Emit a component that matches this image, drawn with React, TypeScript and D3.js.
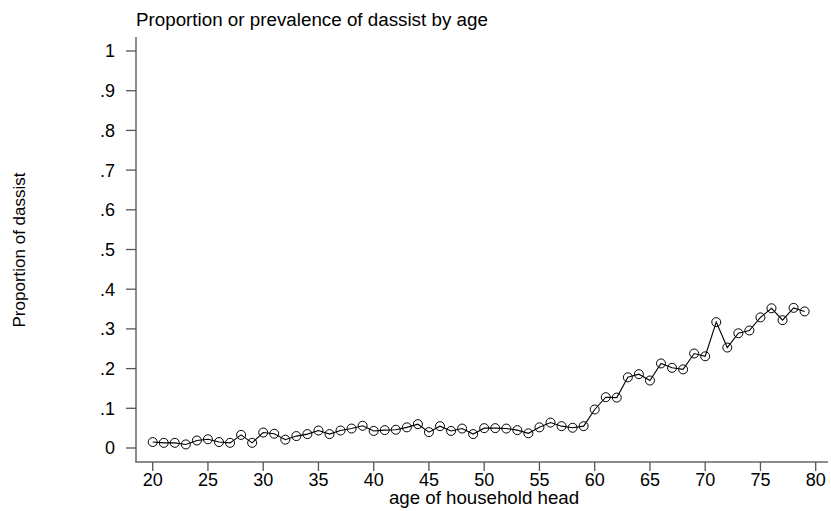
import React, { useEffect, useRef } from 'react';
import * as d3 from 'd3';

// age of household head, 20..79
const ages = d3.range(20, 80);
// proportion of dassist per age
const proportions = [
  0.015, 0.013, 0.013, 0.009, 0.019, 0.022, 0.015, 0.013, 0.033, 0.013,
  0.039, 0.036, 0.021, 0.030, 0.035, 0.044, 0.035, 0.044, 0.049, 0.056,
  0.043, 0.045, 0.046, 0.052, 0.060, 0.040, 0.055, 0.043, 0.049, 0.035,
  0.050, 0.050, 0.049, 0.045, 0.037, 0.052, 0.064, 0.055, 0.051, 0.055,
  0.097, 0.128, 0.127, 0.178, 0.186, 0.170, 0.213, 0.202, 0.198, 0.238,
  0.231, 0.317, 0.253, 0.289, 0.296, 0.329, 0.352, 0.322, 0.353, 0.344,
];
const xTicks = [20, 25, 30, 35, 40, 45, 50, 55, 60, 65, 70, 75, 80];
const yTicks = [0, 0.1, 0.2, 0.3, 0.4, 0.5, 0.6, 0.7, 0.8, 0.9, 1];
const yTickLabels = ['0', '.1', '.2', '.3', '.4', '.5', '.6', '.7', '.8', '.9', '1'];

const W = 831;
const H = 511;
const FONT = '"Liberation Sans", Arial, sans-serif';

export default function App() {
  const ref = useRef<SVGSVGElement | null>(null);

  useEffect(() => {
    if (!ref.current) return;
    const svg = d3.select(ref.current);
    svg.selectAll('*').remove();

    const x = d3.scaleLinear().domain([20, 80]).range([152.7, 815.7]);
    const y = d3.scaleLinear().domain([0, 1]).range([448, 51]);
    const axisX = 136;
    const axisY = 462;

    // title
    svg.append('text')
      .attr('x', 136).attr('y', 26)
      .style('font-family', FONT).style('font-size', '18.8px')
      .attr('fill', '#000')
      .text('Proportion or prevalence of dassist by age');

    // y axis
    svg.append('line')
      .attr('x1', axisX).attr('x2', axisX)
      .attr('y1', 37).attr('y2', axisY)
      .attr('stroke', '#666').attr('stroke-width', 1.5);

    const yg = svg.append('g');
    yTicks.forEach((t, i) => {
      yg.append('line')
        .attr('x1', axisX - 10).attr('x2', axisX)
        .attr('y1', y(t)).attr('y2', y(t))
        .attr('stroke', '#555').attr('stroke-width', 1.3);
      yg.append('text')
        .attr('x', 115).attr('y', y(t)).attr('dy', '0.36em')
        .attr('text-anchor', 'end')
        .style('font-family', FONT).style('font-size', '18px')
        .attr('fill', '#000')
        .text(yTickLabels[i]);
    });

    // x axis
    svg.append('line')
      .attr('x1', axisX - 0.75).attr('x2', 828)
      .attr('y1', axisY).attr('y2', axisY)
      .attr('stroke', '#666').attr('stroke-width', 1.5);

    const xg = svg.append('g');
    xTicks.forEach((t) => {
      xg.append('line')
        .attr('x1', x(t)).attr('x2', x(t))
        .attr('y1', axisY).attr('y2', axisY + 9)
        .attr('stroke', '#555').attr('stroke-width', 1.3);
      xg.append('text')
        .attr('x', x(t)).attr('y', 486)
        .attr('text-anchor', 'middle')
        .style('font-family', FONT).style('font-size', '18px')
        .attr('fill', '#000')
        .text(String(t));
    });

    // axis titles
    svg.append('text')
      .attr('x', 484).attr('y', 503.5)
      .attr('text-anchor', 'middle')
      .style('font-family', FONT).style('font-size', '18.7px')
      .attr('fill', '#000')
      .text('age of household head');

    svg.append('text')
      .attr('transform', 'translate(25,250) rotate(-90)')
      .attr('text-anchor', 'middle')
      .style('font-family', FONT).style('font-size', '17px')
      .attr('fill', '#000')
      .text('Proportion of dassist');

    // series
    const pts = ages.map((a, i) => [a, proportions[i]] as [number, number]);
    const line = d3.line<[number, number]>()
      .x((d) => x(d[0]))
      .y((d) => y(d[1]));

    svg.append('path')
      .attr('d', line(pts) ?? '')
      .attr('fill', 'none')
      .attr('stroke', '#000')
      .attr('stroke-width', 1.1);

    svg.append('g')
      .selectAll('circle')
      .data(pts)
      .join('circle')
      .attr('cx', (d) => x(d[0]))
      .attr('cy', (d) => y(d[1]))
      .attr('r', 4.5)
      .attr('fill', 'none')
      .attr('stroke', '#000')
      .attr('stroke-width', 1);
  }, []);

  return (
    <svg
      ref={ref}
      width={W}
      height={H}
      style={{ position: 'absolute', left: 0, top: 0, background: '#fff', display: 'block' }}
    />
  );
}
